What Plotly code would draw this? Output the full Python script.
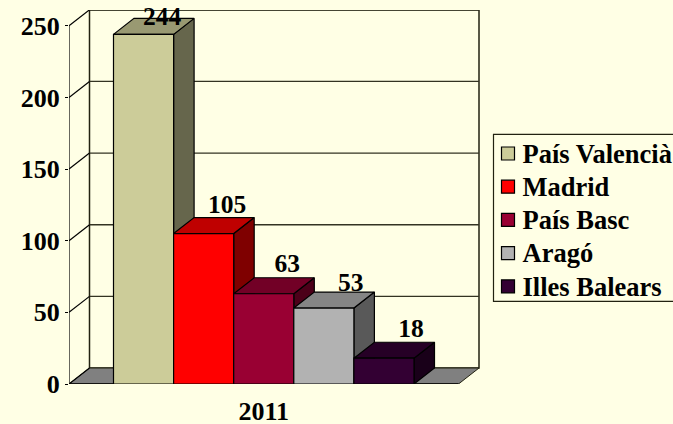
import plotly.graph_objects as go

# Data
regions = ["País Valencià", "Madrid", "País Basc", "Aragó", "Illes Balears"]
values = [244, 105, 63, 53, 18]
year = "2011"
y_ticks = [0, 50, 100, 150, 200, 250]
colors = ["#CCCC99", "#FF0000", "#990033", "#B2B2B2", "#330033"]
label_dx = [-2, 3, 3, 6.5, 6.5]
label_dy = [0, 10.5, 12, 7.5, 11.5]

# Geometry (pixels of the plot)
W, H = 673, 424
L, WALL_R, T, B = 69, 479, 9.7, 384.5
PX_PER_UNIT = 1.436
DX, DY_PX = 20.5, 16
DY = DY_PX / PX_PER_UNIT
FRONT_W = WALL_R - L - DX
BAR_W = 60.1
BAR_START = 44.5
BG = "#FFFFE5"
YMAX = (B - T) / PX_PER_UNIT
GRID = "#333322"
LEG_ICON_X, LEG_TEXT_X, LEG_TOP, LEG_STEP = 508, 522.5, 153.5, 33.3
LEG_TEXT_DY = 2.5


def shade(hex_color, f):
    r, g, b = (int(hex_color[i:i + 2], 16) for i in (1, 3, 5))
    return f"rgb({int(r * f)},{int(g * f)},{int(b * f)})"


fig = go.Figure()


def poly(xs, ys, fill, line="black", width=1.2):
    fig.add_trace(go.Scatter(x=xs, y=ys, mode="lines", fill="toself", fillcolor=fill,
                             line=dict(color=line, width=width), showlegend=False,
                             hoverinfo="skip", cliponaxis=False))


def seg(xs, ys, color="black", width=1.2):
    fig.add_trace(go.Scatter(x=xs, y=ys, mode="lines", line=dict(color=color, width=width),
                             showlegend=False, hoverinfo="skip", cliponaxis=False))


# Back wall and floor
poly([DX, DX + FRONT_W, DX + FRONT_W, DX, DX], [DY, DY, YMAX, YMAX, DY], BG, "#222211", 1.5)
poly([0, FRONT_W, FRONT_W + DX, DX, 0], [0, 0, DY, DY, 0], "#808080", "#222211", 1)

# Gridlines and depth ticks
for t in y_ticks[1:]:
    seg([DX, DX + FRONT_W], [t + DY, t + DY], GRID, 1.3)
for t in y_ticks:
    seg([0, DX], [t, t + DY])

# Axes lines
seg([0, 0], [-3.6, y_ticks[-1]])
seg([0, FRONT_W], [0, 0], "black", 1.3)
seg([FRONT_W, FRONT_W], [-3.6, 0], "#555555", 1)

# Bars
for i, (v, c) in enumerate(zip(values, colors)):
    x0 = BAR_START + i * BAR_W
    x1 = x0 + BAR_W
    poly([x1, x1 + DX, x1 + DX, x1, x1], [0, DY, v + DY, v, 0], shade(c, 0.5))
    poly([x0, x1, x1 + DX, x0 + DX, x0], [v, v, v + DY, v + DY, v], shade(c, 0.75))
    poly([x0, x1, x1, x0, x0], [0, 0, v, v, 0], c)

# Value labels
for i, v in enumerate(values):
    x0 = BAR_START + i * BAR_W
    fig.add_trace(go.Scatter(
        x=[x0 + BAR_W / 2 + DX + label_dx[i]], y=[v + DY + label_dy[i] / PX_PER_UNIT],
        mode="text", text=[str(v)], textposition="middle center",
        textfont=dict(family="Liberation Serif", size=25.5, color="black", weight="bold"),
        showlegend=False, hoverinfo="skip", cliponaxis=False))

# Legend entries (drawn on the same axes, to keep the original row pitch)
for i, (name, c) in enumerate(zip(regions, colors)):
    py = LEG_TOP + i * LEG_STEP
    fig.add_trace(go.Scatter(x=[LEG_ICON_X - L], y=[(B - py) / PX_PER_UNIT], mode="markers",
                             name=name, showlegend=False,
                             marker=dict(symbol="square", size=13, color=c,
                                         line=dict(color="black", width=1.2)),
                             hoverinfo="skip", cliponaxis=False))
    fig.add_trace(go.Scatter(x=[LEG_TEXT_X - L], y=[(B - py - LEG_TEXT_DY) / PX_PER_UNIT],
                             mode="text", text=[name], name=name,
                             textposition="middle right", showlegend=False,
                             textfont=dict(family="Liberation Serif", size=26.5, color="black", weight="bold"),
                             hoverinfo="skip", cliponaxis=False))

fig.update_layout(
    width=W, height=H, autosize=False,
    margin=dict(l=L, r=0, t=T, b=H - B, pad=0, autoexpand=False),
    paper_bgcolor=BG, plot_bgcolor=BG,
    font=dict(family="Liberation Serif", size=26, color="black"),
    xaxis=dict(range=[0, W - L], showgrid=False, zeroline=False, showline=False,
               tickmode="array", tickvals=[FRONT_W / 2], ticktext=[year],
               ticks="outside", ticklen=4, tickcolor=BG, tickfont=dict(size=26, weight="bold")),
    yaxis=dict(range=[0, YMAX], showgrid=False, zeroline=False, showline=False,
               tickmode="array", tickvals=y_ticks, ticks="outside", ticklen=3,
               tickcolor="black", tickfont=dict(size=26, weight="bold")),
    showlegend=False,
    shapes=[dict(type="rect", xref="x", yref="y", layer="above",
                 x0=493.5 - L, x1=W + 20 - L,
                 y0=(B - 301.7) / PX_PER_UNIT, y1=(B - 134.3) / PX_PER_UNIT,
                 line=dict(color="#222211", width=1.2), fillcolor="rgba(0,0,0,0)")],
)

fig.write_html("out.html", config={"displayModeBar": False},
               post_script="document.body.style.margin='0';document.body.style.background='#FFFFE5';document.documentElement.style.overflow='hidden';")
